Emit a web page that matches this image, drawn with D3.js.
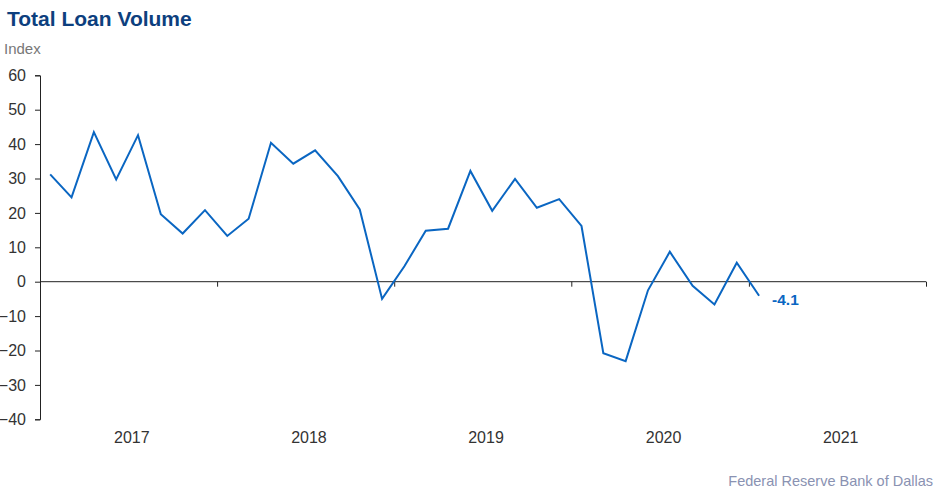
<!DOCTYPE html>
<html>
<head>
<meta charset="utf-8">
<script src="https://cdn.jsdelivr.net/npm/d3@7"></script>
<style>
  html, body { margin: 0; padding: 0; background: #fff; }
  svg { display: block; font-family: "Liberation Sans", Arial, sans-serif; }
</style>
</head>
<body>
<svg id="chart" width="941" height="493"></svg>
<script>
// Survey dates (every six weeks, eight surveys a year)
const surveyDates = [
  "2017-01-22","2017-03-07","2017-04-22","2017-06-07","2017-07-22","2017-09-07","2017-10-22","2017-12-07",
  "2018-01-22","2018-03-07","2018-04-22","2018-06-07","2018-07-22","2018-09-07","2018-10-22","2018-12-07",
  "2019-01-22","2019-03-07","2019-04-22","2019-06-07","2019-07-22","2019-09-07","2019-10-22","2019-12-07",
  "2020-01-22","2020-03-07","2020-04-22","2020-06-07","2020-07-22","2020-09-07","2020-10-22","2020-12-07",
  "2021-01-22"
];
const loanVolume = [
  31.2, 24.5, 43.5, 29.7, 42.6, 19.6, 14.0, 20.8,
  13.3, 18.3, 40.4, 34.3, 38.2, 30.7, 21.0, -5.0,
  4.5, 14.8, 15.4, 32.2, 20.6, 29.9, 21.5, 24.0,
  16.2, -20.8, -23.1, -2.5, 8.7, -1.2, -6.6, 5.5,
  -4.1
];
const yTicks = [60, 50, 40, 30, 20, 10, 0, -10, -20, -30, -40];
const yearLabels = ["2017", "2018", "2019", "2020", "2021"];
const lastLabel = "-4.1";

(function () {
const parse = d3.timeParse("%Y-%m-%d");
const data = surveyDates.map((d, i) => ({ date: parse(d), value: loanVolume[i] }));

const svg = d3.select("#chart");
const pLeft = 40, pRight = 926, pTop = 75.3, pBottom = 419.3;

const x = d3.scaleTime()
  .domain([new Date(2017, 0, 1), new Date(2022, 0, 1)])
  .range([pLeft, pRight]);
const y = d3.scaleLinear().domain([-40, 60]).range([pBottom, pTop]);

const textColor = "#333333";

// Title
svg.append("text").attr("x", 7).attr("y", 26)
  .attr("font-size", 21).attr("font-weight", "bold").attr("fill", "#0d3f7e")
  .text("Total Loan Volume");
svg.append("text").attr("x", 4).attr("y", 54)
  .attr("font-size", 15).attr("fill", "#777777")
  .text("Index");

// Y axis
const yAxis = d3.axisLeft(y).tickValues(yTicks).tickSize(5).tickPadding(9).tickFormat(d3.format("d"));
const gy = svg.append("g").attr("transform", `translate(${pLeft},0)`).call(yAxis);
gy.select(".domain").attr("stroke", "#222").attr("stroke-width", 1);
gy.selectAll(".tick line").attr("stroke", "#222");
gy.selectAll(".tick text").attr("font-size", 16).attr("fill", textColor)
  .attr("font-family", "Liberation Sans, Arial, sans-serif");

// X axis at zero
const yearTicks = d3.range(2017, 2023).map(yr => new Date(yr, 0, 1));
const xAxis = d3.axisBottom(x).tickValues(yearTicks).tickSize(5).tickFormat("");
const gx = svg.append("g").attr("transform", `translate(0,${y(0)})`).call(xAxis);
gx.select(".domain").attr("stroke", "#222").attr("stroke-width", 1)
  .attr("d", `M${pLeft},0H${pRight}`);
gx.selectAll(".tick line").attr("stroke", "#222");

// Year labels
svg.append("g").selectAll("text").data(yearLabels).join("text")
  .attr("x", d => x(new Date(+d, 6, 1)) + 4)
  .attr("y", 443)
  .attr("text-anchor", "middle")
  .attr("font-size", 16).attr("fill", textColor)
  .text(d => d);

// Line
const line = d3.line().x(d => x(d.date)).y(d => y(d.value));
svg.append("path").datum(data)
  .attr("d", line)
  .attr("fill", "none")
  .attr("stroke", "#0a66c2")
  .attr("stroke-width", 2)
  .attr("stroke-linejoin", "miter");

// Last value label
const last = data[data.length - 1];
svg.append("text")
  .attr("x", x(last.date) + 13)
  .attr("y", y(last.value) + 9)
  .attr("font-size", 15.5).attr("font-weight", "bold").attr("fill", "#0a66c2")
  .text(lastLabel);

// Source
svg.append("text").attr("x", 933).attr("y", 486)
  .attr("text-anchor", "end")
  .attr("font-size", 14.5).attr("fill", "#8a92b2")
  .text("Federal Reserve Bank of Dallas");
})();
</script>
</body>
</html>
